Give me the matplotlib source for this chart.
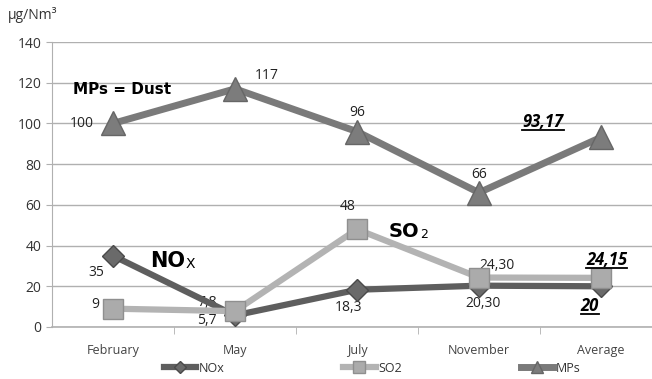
import matplotlib
matplotlib.use("Agg")
import matplotlib.pyplot as plt
from matplotlib.lines import Line2D

months = ["February", "May", "July", "November", "Average"]
nox = [35, 5.7, 18.3, 20.3, 20]
so2 = [9, 7.8, 48, 24.3, 24.15]
mps = [100, 117, 96, 66, 93.17]

nox_labels = ["35", "5,7", "18,3", "20,30", "20"]
so2_labels = ["9", "7,8", "48", "24,30", "24,15"]
mps_labels = ["100", "117", "96", "66", "93,17"]

plt.rcParams["font.family"] = ["Open Sans", "DejaVu Sans"]

W, H = 652, 379
fig = plt.figure(figsize=(W / 100, H / 100), dpi=100)
fig.patch.set_facecolor("white")
# plot area runs off the right edge of the canvas
ax = fig.add_axes([52 / W, 52 / H, 610 / W, 285 / H])

x = list(range(len(months)))
ax.set_xlim(-0.5, len(months) - 0.5)
ax.set_ylim(0, 140)
ax.set_yticks(range(0, 141, 20))
ax.yaxis.grid(True, color="#b0b0b0", lw=1)
ax.set_axisbelow(True)
for s in ["top", "right"]:
    ax.spines[s].set_visible(False)
ax.spines["left"].set_color("#b0b0b0")
ax.spines["bottom"].set_color("#b0b0b0")
ax.spines["bottom"].set_linewidth(1.2)
ax.tick_params(axis="y", length=4, color="#b0b0b0", labelsize=10, labelcolor="#333333")
ax.set_xticks(x)
ax.set_xticklabels(months, fontsize=9, color="#444444")
ax.tick_params(axis="x", length=0, pad=12)
ax.set_xticks([i + 0.5 for i in x[:-1]], minor=True)
ax.tick_params(axis="x", which="minor", length=5, color="#b0b0b0")

l_nox, = ax.plot(x, nox, color="#5e5e5e", lw=4.5, marker="D", ms=11,
                 mfc="#6a6a6a", mec="#4a4a4a", label="NOx", zorder=4)
l_so2, = ax.plot(x, so2, color="#b3b3b3", lw=4.5, marker="s", ms=15,
                 mfc="#ababab", mec="#8f8f8f", label="SO2", zorder=5)
l_mps, = ax.plot(x, mps, color="#7a7a7a", lw=5, marker="^", ms=17,
                 mfc="#7c7c7c", mec="#666666", label="MPs", zorder=3)

lab = dict(fontsize=10, color="#222222")
# MPs values
ax.annotate(mps_labels[0], (0, mps[0]), xytext=(-14, 0), textcoords="offset points", ha="right", va="center", **lab)
ax.annotate(mps_labels[1], (1, mps[1]), xytext=(14, 4), textcoords="offset points", ha="left", va="bottom", **lab)
ax.annotate(mps_labels[2], (2, mps[2]), xytext=(0, 8), textcoords="offset points", ha="center", va="bottom", **lab)
ax.annotate(mps_labels[3], (3, mps[3]), xytext=(0, 8), textcoords="offset points", ha="center", va="bottom", **lab)
t_mps = ax.annotate(mps_labels[4], (4, mps[4]), xytext=(-27, 11), textcoords="offset points", ha="right",
                    va="center", fontsize=12, fontweight="bold", style="italic", color="black")
# NOx values
ax.annotate(nox_labels[0], (0, nox[0]), xytext=(-6, -12), textcoords="offset points", ha="right", va="center", **lab)
ax.annotate(nox_labels[1], (1, nox[1]), xytext=(-13, -4), textcoords="offset points", ha="right", va="center", **lab)
ax.annotate(nox_labels[2], (2, nox[2]), xytext=(-6, -13), textcoords="offset points", ha="center", va="center", **lab)
ax.annotate(nox_labels[3], (3, nox[3]), xytext=(3, -13), textcoords="offset points", ha="center", va="center", **lab)
t_nox = ax.annotate(nox_labels[4], (4, nox[4]), xytext=(-8, -14), textcoords="offset points", ha="center",
                    va="center", fontsize=12, fontweight="bold", style="italic", color="black")
# SO2 values
ax.annotate(so2_labels[0], (0, so2[0]), xytext=(-10, 3), textcoords="offset points", ha="right", va="center", **lab)
ax.annotate(so2_labels[1], (1, so2[1]), xytext=(-13, 6), textcoords="offset points", ha="right", va="center", **lab)
ax.annotate(so2_labels[2], (2, so2[2]), xytext=(-7, 11), textcoords="offset points", ha="center", va="bottom", **lab)
ax.annotate(so2_labels[3], (3, so2[3]), xytext=(0, 9), textcoords="offset points", ha="left", va="center", **lab)
t_so2 = ax.annotate(so2_labels[4], (4, so2[4]), xytext=(4, 13), textcoords="offset points", ha="center",
                    va="center", fontsize=12, fontweight="bold", style="italic", color="black")

# series names inside the plot
fig.text(73 / W, 1 - 89 / H, "MPs = Dust", fontsize=11, fontweight="bold", color="black",
         family="DejaVu Sans", va="center")
fig.text(150 / W, 1 - 261 / H, "NO", fontsize=15, fontweight="bold", family="DejaVu Sans", va="center")
fig.text(186 / W, 1 - 264 / H, "X", fontsize=10, family="DejaVu Sans", va="center")
fig.text(389 / W, 1 - 231 / H, "SO", fontsize=14, fontweight="bold", family="DejaVu Sans", va="center")
fig.text(420 / W, 1 - 235 / H, "2", fontsize=9, family="DejaVu Sans", va="center")

fig.text(8 / W, 1 - 15 / H, "µg/Nm³", fontsize=10, color="#333333", va="center")

fig.legend(handles=[l_nox, l_so2, l_mps], loc="center", bbox_to_anchor=(372 / W, 1 - 368 / H),
           ncol=3, frameon=False, fontsize=9, columnspacing=9.5, handlelength=2.6,
           handletextpad=0.2, markerscale=0.55, labelcolor="#333333")

# underline the average values
fig.canvas.draw()
rend = fig.canvas.get_renderer()
for t in (t_mps, t_nox, t_so2):
    bb = t.get_window_extent(rend)
    y = bb.y0 + 1
    fig.add_artist(Line2D([bb.x0 / W, bb.x1 / W], [y / H, y / H], color="black", lw=1.3,
                          transform=fig.transFigure))

fig.savefig("out.png", dpi=100)
